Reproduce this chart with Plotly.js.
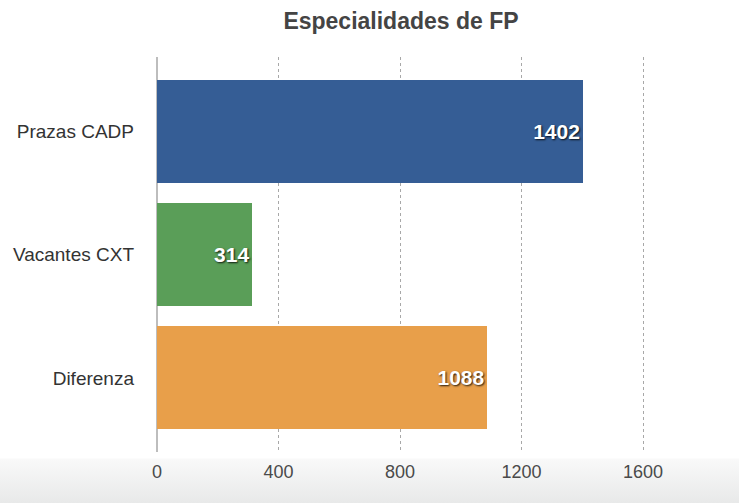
<!DOCTYPE html>
<html>
<head>
<meta charset="utf-8">
<script src="https://cdn.plot.ly/plotly-3.0.1.min.js"></script>
<style>
  html, body { margin: 0; padding: 0; width: 739px; height: 503px; overflow: hidden; }
  body { background: linear-gradient(to bottom, #ffffff 0px, #ffffff 458px, #f9f9f9 459px, #e8e9e9 503px); }
  #chart { width: 739px; height: 503px; }
</style>
</head>
<body>
<div id="chart"></div>
<script>
const categories = ["Prazas CADP", "Vacantes CXT", "Diferenza"];
const values = [1402, 314, 1088];
const barColors = ["#355D95", "#5A9E58", "#E89F4A"];
const xTicks = [0, 400, 800, 1200, 1600];

const trace = {
  type: "bar",
  orientation: "h",
  y: categories,
  x: values,
  width: 0.834,
  marker: { color: barColors, line: { width: 0 } },
  text: values.map(String),
  textposition: "inside",
  insidetextanchor: "end",
  textangle: 0,
  constraintext: "none",
  textfont: { family: "Liberation Sans, Arial, sans-serif", size: 21, color: "#ffffff", weight: "bold", shadow: "1px 1px 2px rgba(0,0,0,0.85)" },
  hoverinfo: "none"
};

const layout = {
  width: 739,
  height: 503,
  margin: { l: 157, r: 0, t: 57, b: 51, pad: 0 },
  paper_bgcolor: "rgba(0,0,0,0)",
  plot_bgcolor: "rgba(0,0,0,0)",
  showlegend: false,
  bargap: 0,
  title: {
    text: "Especialidades de FP",
    font: { family: "Liberation Sans, Arial, sans-serif", size: 23, color: "#444444", weight: "bold" },
    x: 401 / 739, xanchor: "center", xref: "container",
    y: 1 - 21 / 503, yanchor: "middle", yref: "container"
  },
  xaxis: {
    range: [0, 1916],
    tickvals: xTicks,
    ticktext: xTicks.map(String),
    showgrid: true,
    gridcolor: "#a8a8a8",
    griddash: "dot",
    gridwidth: 1,
    zeroline: true,
    zerolinecolor: "#bdbdbd",
    zerolinewidth: 2,
    showline: false,
    ticks: "",
    ticklabelstandoff: 7,
    tickfont: { family: "Liberation Sans, Arial, sans-serif", size: 18, color: "#4a4a4a" },
    fixedrange: true
  },
  yaxis: {
    type: "category",
    categoryorder: "array",
    categoryarray: categories,
    range: [2.6, -0.6],
    showgrid: false,
    zeroline: false,
    showline: false,
    ticks: "",
    ticklabelstandoff: 22,
    tickfont: { family: "Liberation Sans, Arial, sans-serif", size: 19, color: "#333333" },
    fixedrange: true
  }
};

Plotly.newPlot("chart", [trace], layout, { displayModeBar: false, staticPlot: true });
</script>
</body>
</html>
